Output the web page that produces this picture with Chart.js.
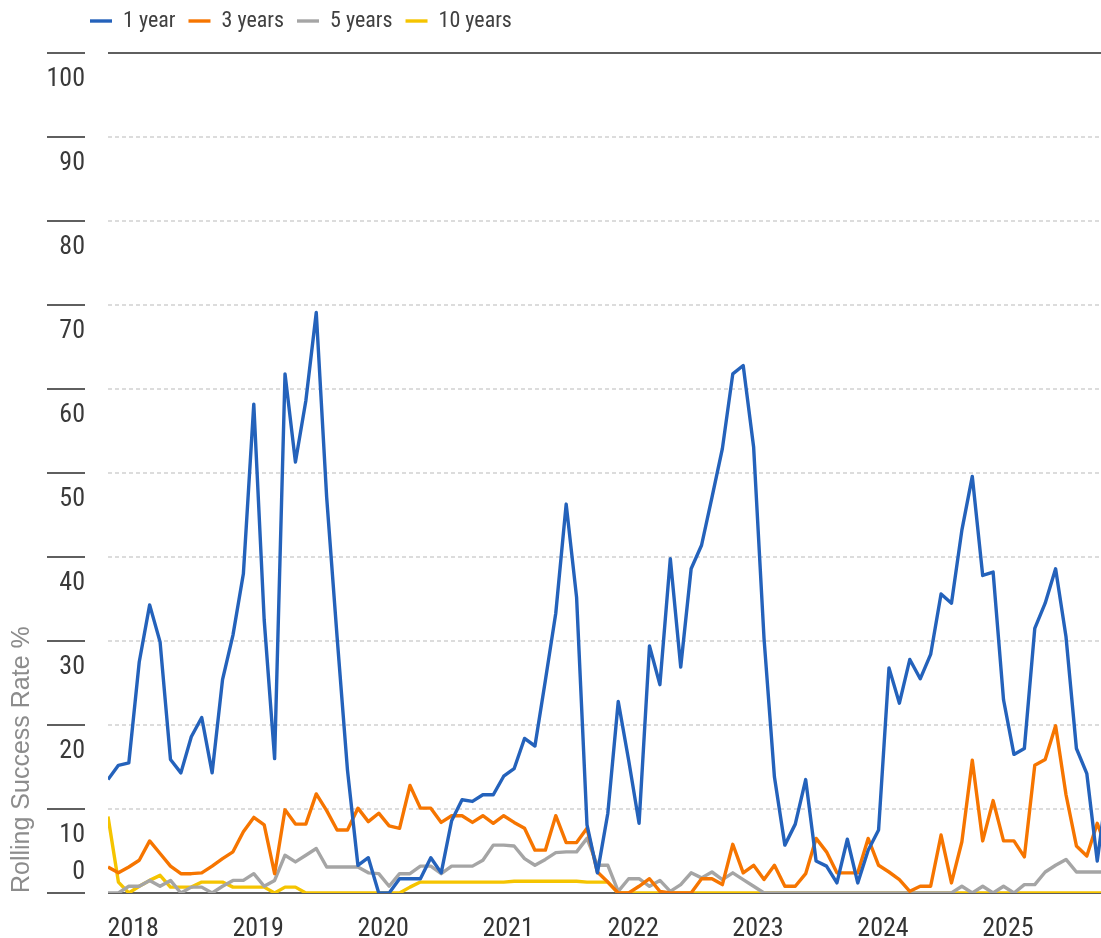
<!DOCTYPE html>
<html>
<head>
<meta charset="utf-8">
<script src="https://cdn.jsdelivr.net/npm/chart.js@4"></script>
<style>
  body { margin: 0; background: #fff; }
  #wrap { width: 1101px; height: 938px; }
</style>
</head>
<body>
<div id="wrap"><canvas id="chart"></canvas></div>
<script>
// monthly points, Oct 2017 .. Oct 2025
const months = [
  '2017-10','2017-11','2017-12',
  '2018-01','2018-02','2018-03','2018-04','2018-05','2018-06','2018-07','2018-08','2018-09','2018-10','2018-11','2018-12',
  '2019-01','2019-02','2019-03','2019-04','2019-05','2019-06','2019-07','2019-08','2019-09','2019-10','2019-11','2019-12',
  '2020-01','2020-02','2020-03','2020-04','2020-05','2020-06','2020-07','2020-08','2020-09','2020-10','2020-11','2020-12',
  '2021-01','2021-02','2021-03','2021-04','2021-05','2021-06','2021-07','2021-08','2021-09','2021-10','2021-11','2021-12',
  '2022-01','2022-02','2022-03','2022-04','2022-05','2022-06','2022-07','2022-08','2022-09','2022-10','2022-11','2022-12',
  '2023-01','2023-02','2023-03','2023-04','2023-05','2023-06','2023-07','2023-08','2023-09','2023-10','2023-11','2023-12',
  '2024-01','2024-02','2024-03','2024-04','2024-05','2024-06','2024-07','2024-08','2024-09','2024-10','2024-11','2024-12',
  '2025-01','2025-02','2025-03','2025-04','2025-05','2025-06','2025-07','2025-08','2025-09','2025-10'
];

const oneYear = [
  13.5, 15.2, 15.5,
  27.5, 34.3, 29.9, 15.9, 14.3, 18.6, 20.9, 14.3, 25.4, 30.7, 38.0, 58.2,
  32.5, 16.0, 61.8, 51.3, 58.6, 69.1, 47.1, 30.5, 14.6, 3.3, 4.2, 0,
  0, 1.7, 1.7, 1.7, 4.2, 2.4, 8.6, 11.1, 10.9, 11.7, 11.7, 13.9,
  14.8, 18.4, 17.5, 25.3, 33.3, 46.3, 35.2, 8.1, 2.4, 9.5, 22.8, 15.8,
  8.3, 29.4, 24.8, 39.8, 26.9, 38.6, 41.4, 47.1, 52.9, 61.8, 62.8, 53.1,
  30.3, 13.8, 5.7, 8.2, 13.5, 3.8, 3.2, 1.2, 6.4, 1.2, 5.1, 7.5,
  26.8, 22.6, 27.8, 25.5, 28.4, 35.6, 34.5, 43.2, 49.6, 37.8, 38.2, 23.0,
  16.5, 17.2, 31.5, 34.5, 38.6, 30.5, 17.2, 14.2, 3.8, 13.1
];
const threeYears = [
  3.1, 2.4, 3.1,
  3.9, 6.2, 4.7, 3.2, 2.3, 2.3, 2.4, 3.2, 4.1, 4.9, 7.3, 9.0,
  8.1, 2.3, 9.9, 8.2, 8.2, 11.8, 9.8, 7.5, 7.5, 10.1, 8.5, 9.5,
  8.0, 7.7, 12.8, 10.1, 10.1, 8.4, 9.2, 9.2, 8.4, 9.2, 8.3, 9.2,
  8.4, 7.7, 5.1, 5.1, 9.2, 6.0, 6.0, 7.7, 2.5, 1.3, 0, 0,
  0.8, 1.7, 0.2, 0, 0, 0, 1.7, 1.7, 1.0, 5.8, 2.4, 3.3,
  1.6, 3.3, 0.8, 0.8, 2.3, 6.5, 4.9, 2.4, 2.4, 2.4, 6.5, 3.3,
  2.5, 1.6, 0.2, 0.8, 0.8, 6.9, 1.2, 6.1, 15.8, 6.2, 11.0, 6.2,
  6.2, 4.3, 15.2, 15.9, 19.9, 11.7, 5.6, 4.4, 8.3, 4.9
];
const fiveYears = [
  0, 0, 0.8,
  0.8, 1.5, 0.8, 1.5, 0, 0.7, 0.7, 0, 0.8, 1.5, 1.5, 2.3,
  0.8, 1.5, 4.5, 3.7, 4.5, 5.3, 3.1, 3.1, 3.1, 3.1, 2.4, 2.3,
  0.8, 2.3, 2.3, 3.2, 3.2, 2.3, 3.2, 3.2, 3.2, 3.9, 5.7, 5.7,
  5.6, 4.1, 3.3, 4.0, 4.8, 4.9, 4.9, 6.5, 3.3, 3.3, 0.2, 1.7,
  1.7, 0.8, 1.5, 0.2, 1.0, 2.4, 1.8, 2.5, 1.6, 2.4, 1.6, 0.8,
  0, 0, 0, 0, 0, 0, 0, 0, 0, 0, 0, 0,
  0, 0, 0, 0, 0, 0, 0, 0.8, 0, 0.8, 0, 0.8,
  0, 1.0, 1.0, 2.5, 3.3, 4.0, 2.5, 2.5, 2.5, 2.5
];
const tenYears = [
  9.1, 1.3, 0,
  0.8, 1.5, 2.1, 0.7, 0.7, 0.7, 1.3, 1.3, 1.3, 0.7, 0.7, 0.7,
  0.7, 0, 0.7, 0.7, 0, 0, 0, 0, 0, 0, 0, 0,
  0, 0, 0.7, 1.3, 1.3, 1.3, 1.3, 1.3, 1.3, 1.3, 1.3, 1.3,
  1.4, 1.4, 1.4, 1.4, 1.4, 1.4, 1.4, 1.3, 1.3, 1.3, 0, 0,
  0, 0, 0, 0, 0, 0, 0, 0, 0, 0, 0, 0,
  0, 0, 0, 0, 0, 0, 0, 0, 0, 0, 0, 0,
  0, 0, 0, 0, 0, 0, 0, 0, 0, 0, 0, 0,
  0, 0, 0, 0, 0, 0, 0, 0, 0, 0
];

const seriesNames = ['1 year', '3 years', '5 years', '10 years'];
const seriesColors = ['#2462bb', '#f67500', '#a5a5a5', '#f5c400'];

// last month runs just past the right edge of the picture
const xMax = 95.36;

const narrow = "'Liberation Sans Narrow', 'Roboto Condensed', 'DejaVu Sans Condensed', sans-serif";

// legend sits further right and higher than chart.js puts it
const legendShift = {
  id: 'legendShift',
  afterLayout(chart) {
    chart.legend.left = 77;
    chart.legend.top = -3;
  }
};

// short dark marks left of the value labels, detached from the grid
const yMarks = {
  id: 'yMarks',
  afterDraw(chart) {
    const y = chart.scales.y;
    const ctx = chart.ctx;
    ctx.save();
    ctx.strokeStyle = '#5f5f5f';
    ctx.lineWidth = 2;
    y.ticks.forEach(t => {
      const py = Math.round(y.getPixelForValue(t.value));
      ctx.beginPath();
      ctx.moveTo(47, py);
      ctx.lineTo(85, py);
      ctx.stroke();
    });
    ctx.restore();
  }
};

new Chart('chart', {
  type: 'line',
  data: {
    datasets: [oneYear, threeYears, fiveYears, tenYears].map((d, i) => ({
      label: seriesNames[i],
      data: d.map((v, k) => ({ x: k, y: v })),
      borderColor: seriesColors[i],
      backgroundColor: seriesColors[i],
      borderWidth: 3.4,
      pointRadius: 0,
      borderJoinStyle: 'round',
      tension: 0,
      fill: false
    }))
  },
  options: {
    responsive: true,
    maintainAspectRatio: false,
    animation: false,
    layout: { padding: { top: 8, right: 0, left: 0, bottom: 0 } },
    plugins: {
      legend: {
        position: 'top',
        align: 'start',
        labels: {
          usePointStyle: true,
          pointStyle: 'line',
          pointStyleWidth: 22,
          padding: 13,
          color: '#404040',
          font: { size: 22, family: narrow }
        }
      },
      tooltip: { enabled: false }
    },
    scales: {
      x: {
        type: 'linear',
        min: 0,
        max: xMax,
        grid: { display: false },
        border: { display: false },
        afterBuildTicks(scale) {
          scale.ticks = months
            .map((m, i) => ({ value: i, m }))
            .filter(t => t.m.endsWith('-01'))
            .map(t => ({ value: t.value }));
        },
        ticks: {
          autoSkip: false,
          maxRotation: 0,
          padding: 13,
          labelOffset: -6,
          color: '#333333',
          font: { size: 26, family: narrow },
          callback: v => months[v].slice(0, 4)
        },
        afterFit(scale) { scale.height = 45; }
      },
      y: {
        min: 0,
        max: 100,
        ticks: {
          stepSize: 10,
          autoSkip: false,
          labelOffset: 26,
          padding: 23,
          color: '#3a3a3a',
          font: { size: 26, family: narrow },
          // zero label is pulled up inside the plot, extra empty lines lift it
          callback: v => v === 0 ? ['0', '', '', ''] : String(v)
        },
        grid: {
          color: ctx => (ctx.tick.value === 0 || ctx.tick.value === 100) ? '#5f5f5f' : '#dcdcdc',
          lineWidth: 2,
          drawTicks: false
        },
        border: {
          display: false,
          dash: ctx => (ctx.tick && (ctx.tick.value === 0 || ctx.tick.value === 100)) ? [] : [4, 3]
        },
        title: {
          display: true,
          text: 'Rolling Success Rate %',
          align: 'start',
          color: '#8c8c8c',
          font: { size: 25, family: "'Liberation Sans', Arial, sans-serif" },
          padding: { top: 7, bottom: 0 }
        },
        afterFit(scale) {
          scale.width = 108;
          // the tall zero label must not push the plot up
          scale.paddingTop = 0;
          scale.paddingBottom = 0;
        }
      }
    }
  },
  plugins: [legendShift, yMarks]
});
</script>
</body>
</html>
